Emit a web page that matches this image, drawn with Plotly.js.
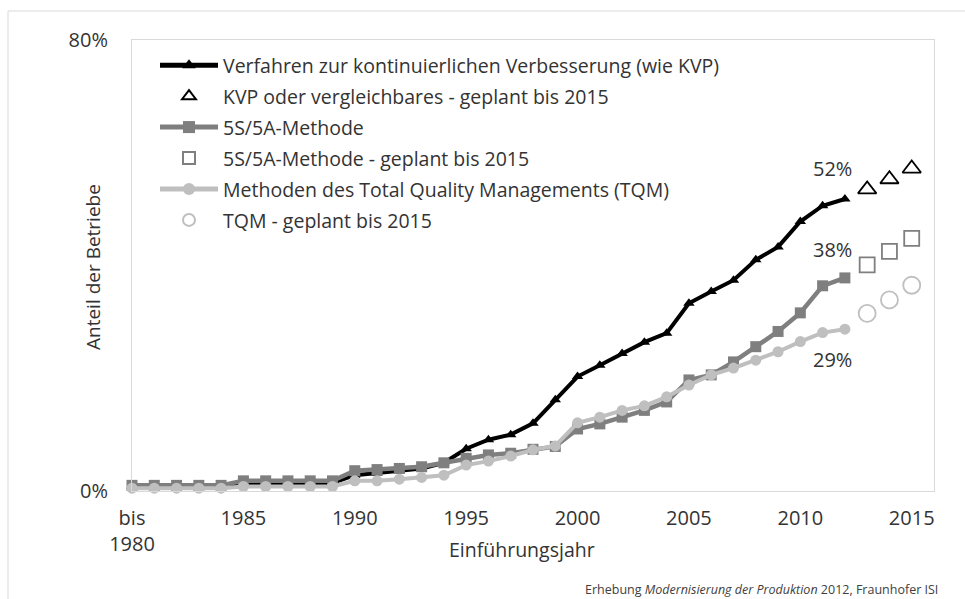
<!DOCTYPE html>
<html>
<head>
<meta charset="utf-8">
<script src="https://cdn.plot.ly/plotly-3.0.1.min.js"></script>
<style>html,body{margin:0;padding:0;background:#fff;}#chart{width:965px;height:599px;}</style>
</head>
<body>
<div id="chart"></div>
<script>
// Data (Anteil der Betriebe in %)
const years = [1980,1981,1982,1983,1984,1985,1986,1987,1988,1989,1990,1991,1992,1993,1994,1995,1996,1997,1998,1999,2000,2001,2002,2003,2004,2005,2006,2007,2008,2009,2010,2011,2012];
const planYears = [2013, 2014, 2015];
const kvp = [0.8,0.8,0.8,0.8,0.8, 1.3,1.3,1.3,1.3,1.4, 2.8,3.2,3.6,4.0,5.0, 7.5,9.1,10.0,12.0,16.2, 20.3,22.3,24.4,26.4,28.0, 33.3,35.4,37.4,41.0,43.3, 47.8,50.6,51.8];
const s5 = [1.0,1.0,1.0,1.0,1.0, 1.8,1.8,1.8,1.8,1.8, 3.6,3.8,4.0,4.3,5.0, 5.8,6.4,6.7,7.4,7.9, 11.0,11.9,13.1,14.3,15.8, 19.7,20.6,22.9,25.6,28.3, 31.6,36.4,37.8];
const tqm = [0.5,0.5,0.5,0.5,0.5, 0.8,0.8,0.8,0.8,0.8, 1.8,1.8,2.1,2.4,2.8, 4.6,5.3,6.2,7.3,8.0, 12.1,13.1,14.3,15.1,16.7, 18.8,20.6,21.8,23.2,24.7, 26.5,28.1,28.7];
const kvpPlan = [53.5, 55.3, 57.2];
const s5Plan = [40.1, 42.5, 44.8];
const tqmPlan = [31.5, 33.9, 36.5];
const names = [
  "Verfahren zur kontinuierlichen Verbesserung (wie KVP)",
  "KVP oder vergleichbares - geplant bis 2015",
  "5S/5A-Methode",
  "5S/5A-Methode - geplant bis 2015",
  "Methoden des Total Quality Managements (TQM)",
  "TQM - geplant bis 2015"
];
const tickVals = [1980, 1985, 1990, 1995, 2000, 2005, 2010, 2015];
const tickText = ["bis<br>1980", "1985", "1990", "1995", "2000", "2005", "2010", "2015"];
const yTickVals = [0, 80];
const yTickText = ["0%", "80%"];

const FONT = "Open Sans, sans-serif";
const TXT = "#333333";

const traces = [
  {x: years, y: kvp, name: names[0], legendgroup: "g1", mode: "lines+markers", cliponaxis: false,
   line: {color: "#000000", width: 4}, marker: {symbol: "triangle-up", size: 10, color: "#000000"}},
  {x: planYears, y: kvpPlan, name: names[1], legendgroup: "g2", mode: "markers", cliponaxis: false,
   marker: {symbol: "triangle-up-open", size: 16, color: "#000000", line: {width: 1.8}}},
  {x: years, y: s5, name: names[2], legendgroup: "g3", mode: "lines+markers", cliponaxis: false,
   line: {color: "#7f7f7f", width: 4.5}, marker: {symbol: "square", size: 11, color: "#7f7f7f"}},
  {x: planYears, y: s5Plan, name: names[3], legendgroup: "g4", mode: "markers", cliponaxis: false,
   marker: {symbol: "square-open", size: 15, color: "#7f7f7f", line: {width: 1.8}}},
  {x: years, y: tqm, name: names[4], legendgroup: "g5", mode: "lines+markers", cliponaxis: false,
   line: {color: "#bfbfbf", width: 4}, marker: {symbol: "circle", size: 11, color: "#bfbfbf"}},
  {x: planYears, y: tqmPlan, name: names[5], legendgroup: "g6", mode: "markers", cliponaxis: false,
   marker: {symbol: "circle-open", size: 17, color: "#bfbfbf", line: {width: 1.8}}}
];

const L = 132, R = 31, T = 40, B = 108, W = 965, H = 599;
const pw = W - L - R, ph = H - T - B;
const px = v => (v - L) / pw;
const py = v => 1 - (v - T) / ph;

const lastLabel = (arr, yshift) => ({
  x: years[years.length - 1], y: arr[arr.length - 1], xref: "x", yref: "y",
  text: Math.round(arr[arr.length - 1]) + "%", showarrow: false,
  xshift: -12, yshift: yshift, font: {family: FONT, size: 20, color: TXT}
});

const layout = {
  width: W, height: H,
  margin: {l: L, r: R, t: T, b: B, pad: 0},
  paper_bgcolor: "#ffffff", plot_bgcolor: "#ffffff",
  font: {family: FONT, size: 19, color: TXT},
  showlegend: true,
  legend: {x: px(155), y: py(46), xanchor: "left", yanchor: "top", traceorder: "grouped",
    bgcolor: "rgba(0,0,0,0)", font: {family: FONT, size: 19.5, color: TXT},
    itemwidth: 58, itemsizing: "constant", tracegroupgap: 2.6},
  xaxis: {range: [1980, 2016], tickmode: "array", tickvals: tickVals, ticktext: tickText,
    showgrid: false, zeroline: false, showline: true, mirror: true, linecolor: "#d9d9d9", linewidth: 1,
    ticks: "", ticklabelstandoff: 9, tickfont: {family: FONT, size: 20, color: TXT}},
  yaxis: {range: [0, 80], tickmode: "array", tickvals: yTickVals, ticktext: yTickText,
    showgrid: false, zeroline: false, showline: true, mirror: true, linecolor: "#d9d9d9", linewidth: 1,
    ticks: "", ticklabelstandoff: 19, tickfont: {family: FONT, size: 20, color: TXT}},
  shapes: [{type: "rect", xref: "paper", yref: "paper",
    x0: px(8), x1: px(970), y0: py(605), y1: py(11),
    line: {color: "#d9d9d9", width: 1}, fillcolor: "rgba(0,0,0,0)", layer: "below"}],
  annotations: [
    lastLabel(kvp, 30), lastLabel(s5, 28), lastLabel(tqm, -30),
    {x: px(93), y: py(267), xref: "paper", yref: "paper", text: "Anteil der Betriebe", showarrow: false,
     textangle: -90, xanchor: "center", yanchor: "middle", font: {family: FONT, size: 19, color: TXT}},
    {x: px(522), y: py(549), xref: "paper", yref: "paper", text: "Einführungsjahr", showarrow: false,
     xanchor: "center", yanchor: "middle", font: {family: FONT, size: 19.5, color: TXT}},
    {x: px(940), y: py(589), xref: "paper", yref: "paper",
     text: "Erhebung <i>Modernisierung der Produktion</i> 2012, Fraunhofer ISI", showarrow: false,
     xanchor: "right", yanchor: "middle", font: {family: FONT, size: 12.5, color: "#404040"}}
  ]
};

Plotly.newPlot("chart", traces, layout, {displayModeBar: false, staticPlot: true});
</script>
</body>
</html>
